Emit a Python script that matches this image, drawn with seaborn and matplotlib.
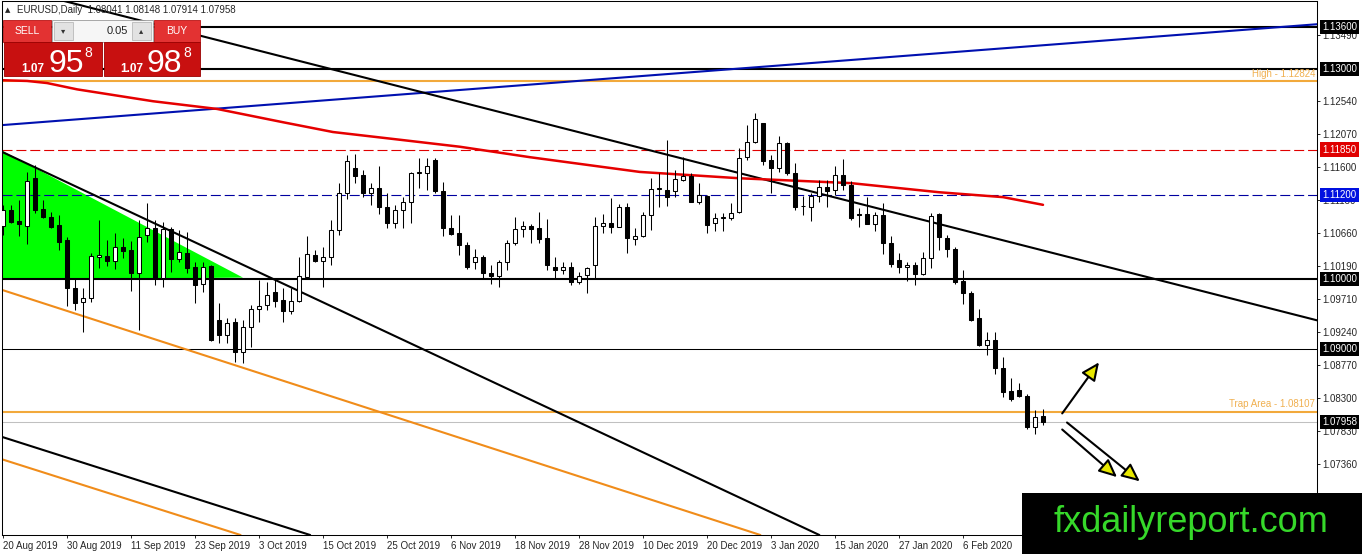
import numpy as np
import pandas as pd
import matplotlib
matplotlib.use("Agg")
import matplotlib.pyplot as plt
import matplotlib.transforms as mtransforms
from matplotlib.patches import Rectangle, Polygon, FancyArrowPatch
import seaborn as sns

# EURUSD daily candles, bar 0 = 20 Aug 2019
opens = [1.1076, 1.1099, 1.1083, 1.1076, 1.1144, 1.1100, 1.1089, 1.1077, 1.1056, 1.0987,
         1.0967, 1.0973, 1.1031, 1.1033, 1.1026, 1.1046, 1.1041, 1.1009, 1.1063, 1.1073,
         1.1001, 1.1071, 1.1029, 1.1037, 1.1017, 1.0993, 1.1019, 1.0941, 1.0920, 1.0939,
         1.0896, 1.0932, 1.0957, 1.0963, 1.0981, 1.0970, 1.0954, 1.0969, 1.1003, 1.1034,
         1.1026, 1.1031, 1.1070, 1.1123, 1.1159, 1.1149, 1.1123, 1.1130, 1.1103, 1.1080,
         1.1099, 1.1110, 1.1152, 1.1152, 1.1170, 1.1126, 1.1073, 1.1066, 1.1049, 1.1024,
         1.1031, 1.1009, 1.1004, 1.1024, 1.1051, 1.1071, 1.1076, 1.1073, 1.1059, 1.1017,
         1.1013, 1.1017, 1.0996, 1.1006, 1.1020, 1.1076, 1.1080, 1.1074, 1.1103, 1.1057,
         1.1061, 1.1091, 1.1129, 1.1127, 1.1126, 1.1142, 1.1147, 1.1110, 1.1119, 1.1080,
         1.1087, 1.1087, 1.1096, 1.1174, 1.1196, 1.1223, 1.1170, 1.1159, 1.1194, 1.1152,
         1.1105, 1.1103, 1.1119, 1.1132, 1.1127, 1.1149, 1.1134, 1.1093, 1.1093, 1.1079,
         1.1091, 1.1051, 1.1027, 1.1017, 1.1020, 1.1007, 1.1030, 1.1093, 1.1059, 1.1043,
         1.0997, 1.0980, 1.0944, 1.0906, 1.0913, 1.0873, 1.0840, 1.0842, 1.0833, 1.0789,
         1.08041]
highs = [1.1106, 1.1106, 1.1113, 1.1153, 1.1163, 1.1113, 1.1096, 1.1091, 1.1060, 1.1001,
         1.0987, 1.1037, 1.1084, 1.1056, 1.1066, 1.1059, 1.1054, 1.1084, 1.1108, 1.1084,
         1.1081, 1.1074, 1.1070, 1.1067, 1.1024, 1.1024, 1.1020, 1.0966, 1.0944, 1.0944,
         1.0941, 1.0963, 1.0999, 1.0996, 1.0999, 1.0987, 1.0987, 1.1031, 1.1061, 1.1041,
         1.1046, 1.1084, 1.1137, 1.1177, 1.1179, 1.1156, 1.1137, 1.1162, 1.1123, 1.1106,
         1.1117, 1.1153, 1.1173, 1.1173, 1.1173, 1.1139, 1.1091, 1.1091, 1.1053, 1.1043,
         1.1034, 1.1020, 1.1027, 1.1056, 1.1089, 1.1083, 1.1079, 1.1096, 1.1086, 1.1031,
         1.1024, 1.1024, 1.1010, 1.1017, 1.1089, 1.1093, 1.1116, 1.1107, 1.1108, 1.1073,
         1.1096, 1.1144, 1.1152, 1.1199, 1.1156, 1.1174, 1.1152, 1.1137, 1.1120, 1.1094,
         1.1094, 1.1108, 1.1187, 1.1220, 1.1237, 1.1223, 1.1177, 1.1204, 1.1196, 1.1166,
         1.1119, 1.1123, 1.1142, 1.1142, 1.1162, 1.1171, 1.1140, 1.1101, 1.1117, 1.1096,
         1.1108, 1.1061, 1.1037, 1.1024, 1.1024, 1.1039, 1.1094, 1.1094, 1.1063, 1.1046,
         1.1013, 1.0983, 1.0957, 1.0924, 1.0924, 1.0889, 1.0859, 1.0851, 1.0836, 1.0813,
         1.08148]
lows = [1.1063, 1.1080, 1.1061, 1.1050, 1.1094, 1.1087, 1.1073, 1.1041, 1.0961, 1.0956,
        1.0924, 1.0967, 1.1016, 1.1019, 1.1014, 1.1030, 1.0983, 1.0927, 1.1053, 1.0991,
        1.0988, 1.1010, 1.1024, 1.1009, 1.0966, 1.0981, 1.0911, 1.0908, 1.0908, 1.0881,
        1.0880, 1.0903, 1.0939, 1.0956, 1.0960, 1.0939, 1.0950, 1.0967, 1.1000, 1.1024,
        1.0988, 1.1020, 1.1063, 1.1114, 1.1137, 1.1117, 1.1106, 1.1093, 1.1073, 1.1073,
        1.1073, 1.1080, 1.1130, 1.1127, 1.1123, 1.1061, 1.1063, 1.1034, 1.1014, 1.1014,
        1.1001, 1.0993, 1.0988, 1.1013, 1.1049, 1.1060, 1.1051, 1.1051, 1.1013, 1.1001,
        1.1007, 1.0991, 1.0993, 1.0980, 1.1001, 1.1066, 1.1066, 1.1074, 1.1037, 1.1049,
        1.1060, 1.1070, 1.1103, 1.1104, 1.1117, 1.1140, 1.1110, 1.1107, 1.1066, 1.1069,
        1.1069, 1.1084, 1.1094, 1.1170, 1.1194, 1.1163, 1.1123, 1.1153, 1.1149, 1.1099,
        1.1091, 1.1083, 1.1110, 1.1103, 1.1120, 1.1127, 1.1084, 1.1074, 1.1079, 1.1069,
        1.1036, 1.1017, 1.1009, 1.0997, 1.0991, 1.1006, 1.1016, 1.1041, 1.1031, 1.0993,
        1.0964, 1.0940, 1.0905, 1.0891, 1.0864, 1.0831, 1.0826, 1.0831, 1.0786, 1.0779,
        1.07914]
closes = [1.1099, 1.1081, 1.1079, 1.1140, 1.1099, 1.1089, 1.1074, 1.1053, 1.0987, 1.0966,
          1.0973, 1.1033, 1.1034, 1.1026, 1.1046, 1.1040, 1.1009, 1.1060, 1.1073, 1.1001,
          1.1071, 1.1029, 1.1039, 1.1016, 1.0991, 1.1017, 1.0913, 1.0920, 1.0937, 1.0896,
          1.0932, 1.0957, 1.0961, 1.0977, 1.0969, 1.0954, 1.0969, 1.1004, 1.1036, 1.1026,
          1.1031, 1.1070, 1.1123, 1.1169, 1.1147, 1.1123, 1.1130, 1.1103, 1.1080, 1.1099,
          1.1110, 1.1152, 1.1153, 1.1162, 1.1126, 1.1073, 1.1064, 1.1049, 1.1017, 1.1031,
          1.1009, 1.1004, 1.1024, 1.1051, 1.1071, 1.1076, 1.1071, 1.1057, 1.1020, 1.1013,
          1.1017, 1.0996, 1.1004, 1.1016, 1.1076, 1.1080, 1.1074, 1.1103, 1.1059, 1.1061,
          1.1091, 1.1129, 1.1130, 1.1117, 1.1143, 1.1147, 1.1110, 1.1120, 1.1077, 1.1087,
          1.1088, 1.1094, 1.1173, 1.1196, 1.1229, 1.1169, 1.1159, 1.1194, 1.1152, 1.1103,
          1.1104, 1.1119, 1.1132, 1.1126, 1.1149, 1.1134, 1.1087, 1.1092, 1.1079, 1.1091,
          1.1051, 1.1021, 1.1017, 1.1020, 1.1007, 1.1030, 1.1090, 1.1060, 1.1043, 1.0996,
          1.0980, 1.0941, 1.0906, 1.0913, 1.0873, 1.0839, 1.0829, 1.0833, 1.0788, 1.0803,
          1.07958]

date_bars = [0, 8, 16, 24, 32, 40, 48, 56, 64, 72, 80, 88, 96, 104, 112, 120]
date_labels = ["20 Aug 2019", "30 Aug 2019", "11 Sep 2019", "23 Sep 2019", "3 Oct 2019",
               "15 Oct 2019", "25 Oct 2019", "6 Nov 2019", "18 Nov 2019", "28 Nov 2019",
               "10 Dec 2019", "20 Dec 2019", "3 Jan 2020", "15 Jan 2020", "27 Jan 2020",
               "6 Feb 2020"]
price_ticks = [1.13490, 1.12540, 1.12070, 1.11600, 1.11130, 1.10660, 1.10190,
               1.09710, 1.09240, 1.08770, 1.08300, 1.07830, 1.07360, 1.06890]

# moving average (red), read at a few bars
ma_bars = [0, 3, 5.5, 9.25, 18.75, 26.75, 35, 41.25, 49.6, 57.1, 65.9, 79.6, 92, 106,
           117, 125, 130]
ma_vals = [1.1284, 1.1283, 1.1280, 1.1271, 1.1254, 1.1243, 1.1224, 1.1210, 1.1199,
           1.1189, 1.1174, 1.1153, 1.1144, 1.1137, 1.1124, 1.1117, 1.1106]

# trend lines: two points each (bar, price)
blue_line = [(0, 1.1220), (164.25, 1.1364)]
black_top_line = [(15.6, 1.1374), (164.25, 1.0941)]
black_mid_line = [(0, 1.1181), (102.1, 1.0634)]
black_low_line = [(0, 1.0774), (37.1, 1.0639)]
orange_line_1 = [(0, 1.0984), (93.4, 1.0639)]
orange_line_2 = [(0, 1.0742), (28.4, 1.0639)]
green_zone = [(-0.2, 1.1184), (-0.2, 1.0999), (30, 1.1002)]

black_levels = [1.13600, 1.13000, 1.10000]
high_level = 1.12824
trap_level = 1.08107
red_level = 1.11850
blue_level = 1.11200
thin_level = 1.09000
bid_price = 1.07958

arrow_starts = [(132.4, 1.0808), (132.4, 1.0785), (133.0, 1.0795)]
arrow_ends = [(137.0, 1.0881), (139.25, 1.0717), (142.1, 1.0711)]

sns.set_style("white")
plt.rcParams["font.family"] = ["Liberation Sans", "DejaVu Sans"]

W, H = 1362, 554
fig = plt.figure(figsize=(W / 100, H / 100), dpi=100)
ax = fig.add_axes([2 / W, 1 - 535 / H, 1315 / W, 534 / H])

bars = np.arange(len(opens))
df = pd.DataFrame({"bar": bars, "open": opens, "high": highs, "low": lows, "close": closes})
df["bottom"] = df[["open", "close"]].min(axis=1)
df["height"] = (df["close"] - df["open"]).abs().clip(lower=0.00004)
df["up"] = df["close"] >= df["open"]

ax.add_patch(Polygon(green_zone, closed=True, fc="#00ff00", ec="none", zorder=0.5))

ax.vlines(df["bar"], df["low"], df["high"], color="black", lw=0.75, zorder=3)
ax.bar(df["bar"], df["height"], bottom=df["bottom"], width=0.5,
       color=np.where(df["up"], "white", "black"), edgecolor="black", linewidth=0.75, zorder=4)

for lvl in black_levels:
    ax.axhline(lvl, color="black", lw=1.5, zorder=2)
ax.axhline(thin_level, color="black", lw=0.75, zorder=2)
ax.axhline(high_level, color="#f2a93b", lw=1.5, zorder=2)
ax.axhline(trap_level, color="#f2a93b", lw=1.5, zorder=2)
ax.axhline(bid_price, color="#c0c0c0", lw=0.75, zorder=2)
ax.axhline(red_level, color="#e00000", lw=0.8, dashes=(9, 3.5), zorder=2)
ax.axhline(blue_level, color="#0000a0", lw=0.8, dashes=(9, 3.5), zorder=2)

ax.axline(*blue_line, color="#0010b0", lw=1.5, zorder=2)
ax.axline(*black_top_line, color="black", lw=1.5, zorder=2)
ax.axline(*black_mid_line, color="black", lw=1.5, zorder=2)
ax.axline(*black_low_line, color="black", lw=1.5, zorder=2)
ax.axline(*orange_line_1, color="#f08c1a", lw=1.5, zorder=2)
ax.axline(*orange_line_2, color="#f08c1a", lw=1.5, zorder=2)

sns.lineplot(x=ma_bars, y=ma_vals, color="#e60000", lw=1.8, ax=ax, zorder=2.5)

for (x0, y0), (x1, y1) in zip(arrow_starts, arrow_ends):
    ax.add_patch(FancyArrowPatch((x0, y0), (x1, y1),
                                 arrowstyle="-|>,head_length=0.55,head_width=0.25",
                                 mutation_scale=20, lw=1.5, ec="black", fc="#e8e800",
                                 shrinkA=0, shrinkB=0, zorder=6))

trans = mtransforms.blended_transform_factory(ax.transAxes, ax.transData)
ax.text(1313 / 1315, high_level + 0.0003, f"High - {high_level:.5f}", transform=trans,
        ha="right", va="bottom", fontsize=7, color="#f0b050")
ax.text(1313 / 1315, trap_level + 0.0003, f"Trap Area - {trap_level:.5f}", transform=trans,
        ha="right", va="bottom", fontsize=7, color="#f0b050")

ax.set_xlim(-0.125, 164.25)
ax.set_ylim(1.06343, 1.13972)
ax.set_xlabel("")
ax.set_ylabel("")

ax.yaxis.tick_right()
ax.set_yticks(price_ticks)
ax.set_yticklabels([f"{p:.5f}" for p in price_ticks])
ax.tick_params(axis="y", direction="out", length=2.5, width=0.7, labelsize=7, pad=1.5,
               right=True, left=False)
ax.set_xticks(date_bars)
ax.set_xticklabels(date_labels, ha="left")
ax.tick_params(axis="x", direction="out", length=2.5, width=0.7, labelsize=7, pad=1.5,
               bottom=True)
for sp in ax.spines.values():
    sp.set_color("black")
    sp.set_linewidth(0.75)

boxed = [(1.13600, "black"), (1.13000, "black"), (1.11850, "#e00000"),
         (1.11200, "#0010e0"), (1.10000, "black"), (1.09000, "black"), (bid_price, "black")]
for price, fc in boxed:
    ax.text(1.0040, price, f"{price:.5f}", transform=trans, ha="left", va="center",
            fontsize=7, color="white", clip_on=False, zorder=10,
            bbox=dict(boxstyle="square,pad=0.22", fc=fc, ec="none"))

# overlay in pixel coordinates for the terminal widgets and watermark
ov = fig.add_axes([0, 0, 1, 1], zorder=10)
ov.set_xlim(0, W)
ov.set_ylim(H, 0)
ov.axis("off")
ov.patch.set_alpha(0)

ov.text(5, 10, "▲", fontsize=5, va="center", ha="left", family=["DejaVu Sans"])
ov.text(17, 10, "EURUSD,Daily  1.08041 1.08148 1.07914 1.07958", fontsize=7,
        va="center", ha="left")

ov.add_patch(Rectangle((3, 20), 48, 22, fc="#e33232", ec="#b81414", lw=0.6))
ov.add_patch(Rectangle((154, 20), 46, 22, fc="#e33232", ec="#b81414", lw=0.6))
ov.add_patch(Rectangle((52, 20), 101, 22, fc="#f6f6f6", ec="#9a9a9a", lw=0.6))
ov.add_patch(Rectangle((54, 22), 19, 18, fc="#e2e2e2", ec="#b0b0b0", lw=0.5))
ov.add_patch(Rectangle((132, 22), 19, 18, fc="#e2e2e2", ec="#b0b0b0", lw=0.5))
ov.text(63.5, 31, "▾", fontsize=6, ha="center", va="center", color="#333333",
        family=["DejaVu Sans"])
ov.text(141.5, 31, "▴", fontsize=6, ha="center", va="center", color="#333333",
        family=["DejaVu Sans"])
ov.text(128, 31, "0.05", fontsize=8, ha="right", va="center", color="#222222")
ov.text(27, 31, "SELL", fontsize=7.5, ha="center", va="center", color="white")
ov.text(177, 31, "BUY", fontsize=7.5, ha="center", va="center", color="white")

ov.add_patch(Rectangle((4, 42), 98, 34, fc="#c81010", ec="#9a0000", lw=0.6))
ov.add_patch(Rectangle((104, 42), 96, 34, fc="#c81010", ec="#9a0000", lw=0.6))
for x0, big in [(0, "95"), (99, "98")]:
    ov.text(x0 + 21, 72, "1.07", fontsize=8.5, fontweight="bold", color="white",
            ha="left", va="baseline")
    ov.text(x0 + 48, 72, big, fontsize=23, color="white", ha="left", va="baseline")
    ov.text(x0 + 84, 57, "8", fontsize=10, color="white", ha="left", va="baseline")

ov.add_patch(Rectangle((1022, 493), 340, 61, fc="black", ec="none"))
ov.text(1191, 522, "fxdailyreport.com", fontsize=26, color="#36d82a",
        ha="center", va="center")

fig.savefig("out.png", dpi=100)
